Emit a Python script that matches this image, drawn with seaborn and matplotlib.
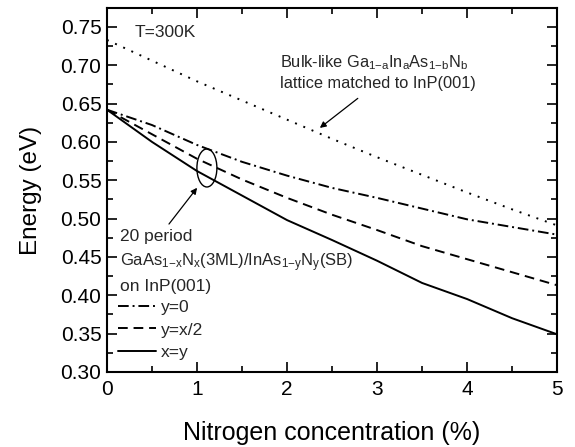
import numpy as np
import pandas as pd
import matplotlib
matplotlib.use("Agg")
import matplotlib.pyplot as plt
import seaborn as sns
from matplotlib.patches import Ellipse

# ---- data ----
nitrogen = [0, 0.5, 1, 1.5, 2, 2.5, 3, 3.5, 4, 4.5, 5]
bulk = [0.733, 0.706, 0.679, 0.654, 0.629, 0.604, 0.580, 0.557, 0.534, 0.512, 0.491]
y_zero = [0.642, 0.622, 0.596, 0.574, 0.556, 0.540, 0.527, 0.513, 0.499, 0.489, 0.479]
y_half = [0.642, 0.610, 0.578, 0.551, 0.527, 0.505, 0.485, 0.464, 0.447, 0.430, 0.413]
x_eq_y = [0.642, 0.600, 0.562, 0.530, 0.498, 0.472, 0.445, 0.416, 0.395, 0.370, 0.349]
legend_labels = ["y=0", "y=x/2", "x=y"]
x_ticks = [0, 1, 2, 3, 4, 5]
y_ticks = [0.30, 0.35, 0.40, 0.45, 0.50, 0.55, 0.60, 0.65, 0.70, 0.75]

sns.set_theme(style="ticks")
plt.rcParams['font.family'] = ['Liberation Sans', 'DejaVu Sans']
plt.rcParams['mathtext.fontset'] = 'custom'
plt.rcParams['mathtext.rm'] = 'Liberation Sans'
plt.rcParams['mathtext.it'] = 'Liberation Sans'

fig = plt.figure(figsize=(5.75, 4.47), dpi=100)
ax = fig.add_axes([0.186, 0.168, 0.783, 0.813])

lw = 1.4
df = pd.DataFrame({"x": nitrogen, "bulk": bulk, "y0": y_zero, "yh": y_half, "xy": x_eq_y})
sns.lineplot(data=df, x="x", y="bulk", ax=ax, color="black", lw=lw)
sns.lineplot(data=df, x="x", y="y0", ax=ax, color="black", lw=lw)
sns.lineplot(data=df, x="x", y="yh", ax=ax, color="black", lw=lw)
sns.lineplot(data=df, x="x", y="xy", ax=ax, color="black", lw=lw)
lines = ax.get_lines()
lines[0].set_dashes((1, 3.6))
lines[1].set_dashes((5.5, 2, 1, 2))
lines[2].set_dashes((5, 3))
lines[3].set_linestyle("-")

ax.set_xlim(0, 5)
ax.set_ylim(0.30, 0.774)
ax.set_xticks(x_ticks)
ax.set_xticklabels([str(v) for v in x_ticks])
ax.set_yticks(y_ticks)
ax.set_yticklabels([f"{v:.2f}" for v in y_ticks])
ax.set_xticks(np.arange(0.5, 5, 1.0), minor=True)
ax.set_yticks(np.arange(0.325, 0.77, 0.05), minor=True)
ax.tick_params(which="both", direction="in", top=True, right=True, colors="black",
               labelsize=15, width=1.2)
ax.tick_params(which="major", length=7)
ax.tick_params(axis="x", which="major", pad=6)
ax.tick_params(axis="y", which="major", pad=4)
ax.tick_params(which="minor", length=4)
for s in ax.spines.values():
    s.set_linewidth(1.5)
    s.set_color("black")

ax.set_xlabel("Nitrogen concentration (%)", fontsize=18, labelpad=16, color="black")
ax.set_ylabel("Energy (eV)", fontsize=17.5, labelpad=13, color="black")

fs = 12.5
fsb = 11.8
ax.text(0.31, 0.743, "T=300K", fontsize=fs, va="center", ha="left")
ax.text(1.92, 0.703, r"Bulk-like Ga$_{1\mathrm{-}a}$In$_a$As$_{1\mathrm{-}b}$N$_b$",
        fontsize=fsb, va="center", ha="left")
ax.text(1.92, 0.676, "lattice matched to InP(001)", fontsize=fsb, va="center", ha="left")
ax.annotate("", xy=(2.34, 0.616), xytext=(2.81, 0.659),
            arrowprops=dict(arrowstyle="-|>", color="black", lw=0.9, mutation_scale=9))

ax.add_patch(Ellipse((1.11, 0.566), 0.222, 0.0496, fill=False, ec="black", lw=1.0))
ax.annotate("", xy=(1.02, 0.543), xytext=(0.67, 0.490),
            arrowprops=dict(arrowstyle="-|>", color="black", lw=0.9, mutation_scale=9))

ax.text(0.14, 0.476, "20 period", fontsize=fs, va="center", ha="left")
ax.text(0.14, 0.443,
        r"GaAs$_{1\mathrm{-}x}$N$_x$(3ML)/InAs$_{1\mathrm{-}y}$N$_y$(SB)",
        fontsize=12.0, va="center", ha="left")
ax.text(0.14, 0.411, "on InP(001)", fontsize=fs, va="center", ha="left")

leg = ax.legend([lines[1], lines[2], lines[3]], legend_labels, loc="upper left",
                bbox_to_anchor=(0.024, 0.198), frameon=False, fontsize=fs,
                handlelength=2.2, handletextpad=0.3, labelspacing=0.42,
                borderpad=0, borderaxespad=0)

fig.savefig("out.png", dpi=100)
